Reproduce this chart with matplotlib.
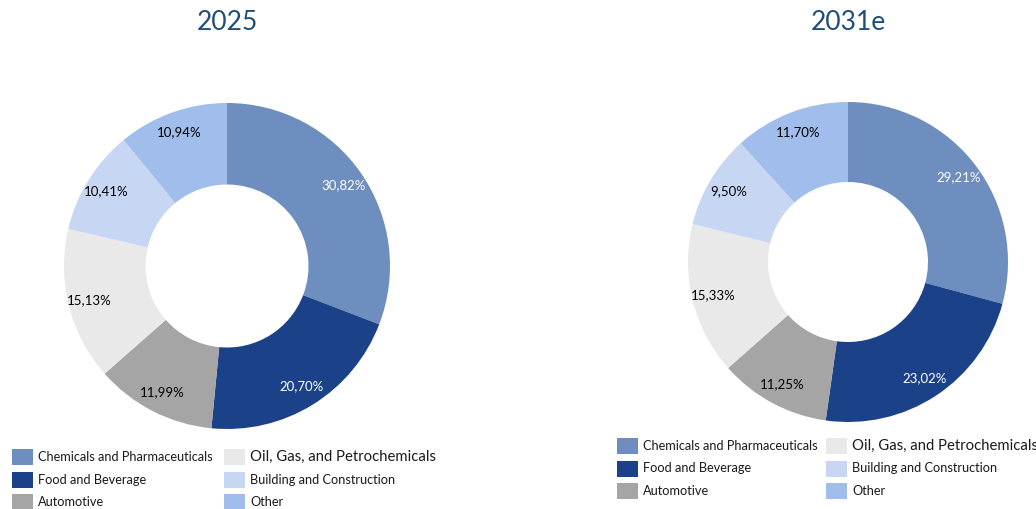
import matplotlib.pyplot as plt
from matplotlib.patches import Rectangle

plt.rcParams['font.family'] = ['Lato', 'DejaVu Sans']

# data
categories = ['Chemicals and Pharmaceuticals', 'Food and Beverage', 'Automotive',
              'Oil, Gas, and Petrochemicals', 'Building and Construction', 'Other']
share_2025 = [30.82, 20.70, 11.99, 15.13, 10.41, 10.94]
share_2031 = [29.21, 23.02, 11.25, 15.33, 9.50, 11.70]
titles = ['2025', '2031e']

colors = ['#6d8ebf', '#1b4289', '#a5a5a5', '#e9e9e9', '#c7d7f3', '#a0bdec']
label_colors = ['white', 'white', 'black', 'black', 'black', 'black']

W, H = 1036, 509
fig = plt.figure(figsize=(W / 100, H / 100), dpi=100)


def donut(cx, cy, r, values, title, title_y):
	# axes sized in pixels so the ring lands where it should
	ax = fig.add_axes([(cx - r) / W, (H - cy - r) / H, 2 * r / W, 2 * r / H])
	wedges, texts = ax.pie(values, colors=colors, startangle=90, counterclock=False,
						   radius=1, wedgeprops=dict(width=0.5, linewidth=0),
						   labels=[('%.2f%%' % v).replace('.', ',') for v in values],
						   labeldistance=0.87)
	for t, c in zip(texts, label_colors):
		t.set_color(c)
		t.set_fontsize(9.5)
		t.set_ha('center')
		t.set_va('center')
	ax.set_xlim(-1, 1)
	ax.set_ylim(-1, 1)
	ax.set_aspect('equal')
	ax.axis('off')
	fig.text(cx / W, 1 - title_y / H, title, ha='center', va='center',
			 fontsize=19, color='#1f4e79')


donut(227, 266, 163, share_2025, titles[0], 22)
donut(848, 262, 160, share_2031, titles[1], 22)


def legend(x0, x1, y0, step=22.5):
	# two columns of three, drawn by hand in pixel units
	for i, (name, c) in enumerate(zip(categories, colors)):
		x = [x0, x1][i // 3]
		y = y0 + (i % 3) * step
		fig.patches.append(Rectangle((x / W, 1 - (y + 8) / H), 21 / W, 16 / H,
									 transform=fig.transFigure, facecolor=c,
									 edgecolor='none'))
		fs = 10.7 if i == 3 else 9.2
		fig.text((x + 26) / W, 1 - y / H, name, ha='left', va='center',
				 fontsize=fs, color='#1a1a1a')


legend(12, 224, 457)
legend(617, 826, 446)

plt.savefig('out.png', dpi=100)
